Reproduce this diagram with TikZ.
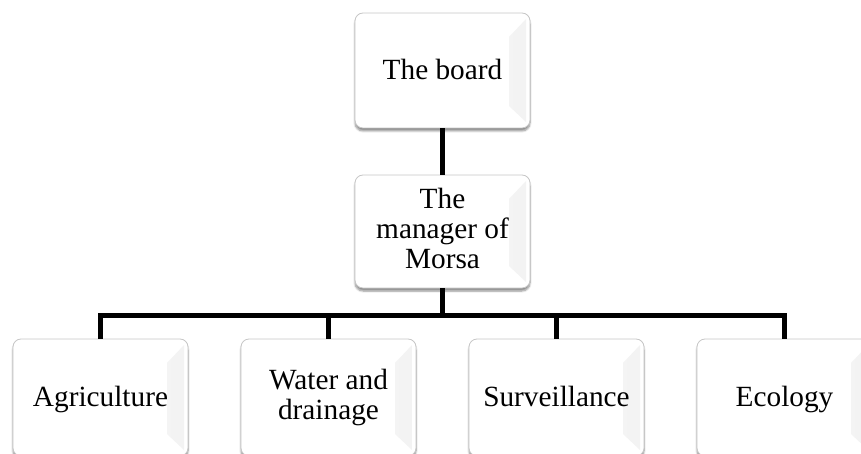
\documentclass[tikz,border=0pt]{standalone}
\usepackage{fontspec}
\setmainfont{Liberation Serif}
\usetikzlibrary{shadows.blur}

% invisible rule that fixes the height and depth of a text line
\newcommand{\linestrut}{\rule[-7pt]{0pt}{32pt}}

\tikzset{
  orgbox/.style={
    draw=gray!45, line width=0.8pt, fill=white,
    rounded corners=8pt,
    minimum width=175pt, minimum height=#1, inner sep=0pt,
    align=center, font=\fontsize{29.3}{30}\selectfont,
    execute at begin node=\linestrut,
    blur shadow={shadow xshift=0pt, shadow yshift=-3pt,
                 shadow blur steps=6, shadow opacity=45},
    path picture={
      \shade[sharp corners, left color=white, right color=gray!10]
        ([shift={(-4,6)}]path picture bounding box.north east) --
        ([shift={(-21,24)}]path picture bounding box.north east) --
        ([shift={(-21,-22)}]path picture bounding box.south east) --
        ([shift={(-4,-6)}]path picture bounding box.south east) -- cycle;
    }
  },
  orgbox/.default=115pt,
  conn/.style={line width=5pt, black, line join=miter}
}

\begin{document}
\begin{tikzpicture}[x=1pt,y=-1pt]
  \useasboundingbox (0,0) rectangle (861,454);
  \clip (0,0) rectangle (861,454);

  % hierarchy boxes
  \node[orgbox] (board) at (442.5,70.5) {The board};
  \node[orgbox=113pt] (mgr) at (442.5,231.5) {The\\manager of\\Morsa};
  \node[orgbox=117pt] (agri)  at (100.5,397.5) {Agriculture};
  \node[orgbox=117pt] (water) at (328.5,397.5) {Water and\\drainage};
  \node[orgbox=117pt] (surv)  at (556.5,397.5) {Surveillance};
  \node[orgbox=117pt] (eco)   at (784.5,397.5) {Ecology};

  % level of the horizontal bus
  \coordinate (bus) at (0,315.5);

  % connectors
  \draw[conn] (board.south) -- (mgr.north);
  \draw[conn] (mgr.south) -- (mgr.south |- bus);
  \draw[conn] (agri.north) -- (agri.north |- bus) -- (eco.north |- bus) -- (eco.north);
  \draw[conn] (water.north) -- (water.north |- bus);
  \draw[conn] (surv.north) -- (surv.north |- bus);
\end{tikzpicture}
\end{document}
